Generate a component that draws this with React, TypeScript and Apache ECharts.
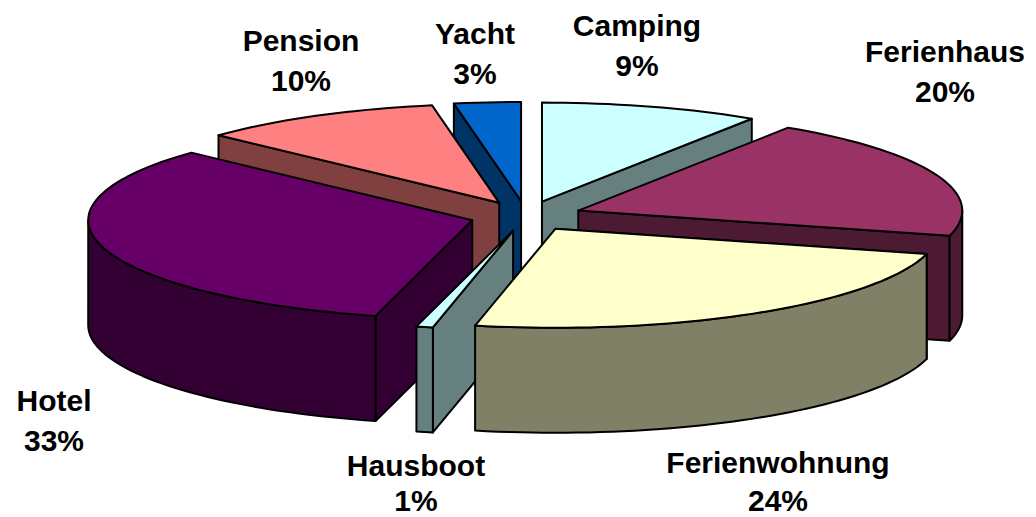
import React, { useEffect, useRef } from "react";
import * as echarts from "echarts";

const NAMES = ["Camping", "Ferienhaus", "Ferienwohnung", "Hausboot", "Hotel", "Pension", "Yacht"];
const VALUES = [9.2, 19.9, 24.25, 0.7, 32.9, 10.25, 2.8];
const TOP_COLORS = ["#CCFFFF", "#993366", "#FFFFCC", "#CCFFFF", "#660066", "#FF8080", "#0066CC"];
const WALL_COLORS = ["#668080", "#4D1A33", "#808066", "#668080", "#330033", "#804040", "#003366"];
const LABEL_ANCHORS = [
  [637, 25], [945, 51], [778, 462], [416, 465], [54, 400], [301, 40], [475, 33],
];
const LABEL_GAPS = [40, 40, 38, 35, 40, 40, 40];
const PAINT_ORDER = [6, 0, 5, 1, 4, 3, 2];

const CX = 526, CY = 216, RX = 384, RY = 99, DEPTH = 105, EXPLODE_X = 56, EXPLODE_Y = 15;
const TOTAL = VALUES.reduce((a, b) => a + b, 0);

let acc = 0;
const SLICES = VALUES.map((v, i) => {
  const start = (acc / TOTAL) * Math.PI * 2;
  acc += v;
  const end = (acc / TOTAL) * Math.PI * 2;
  const mid = (start + end) / 2;
  return {
    i, start, end, mid,
    ax: CX + EXPLODE_X * Math.sin(mid),
    ay: CY - EXPLODE_Y * Math.cos(mid),
  };
});

function rim(s: any, t: number): number[] {
  return [s.ax + RX * Math.sin(t), s.ay - RY * Math.cos(t)];
}
function arcPts(s: any, a: number, b: number): number[][] {
  const n = Math.max(2, Math.ceil((b - a) / 0.03));
  const out: number[][] = [];
  for (let k = 0; k <= n; k++) out.push(rim(s, a + ((b - a) * k) / n));
  return out;
}

function renderSlice(_: any, api: any) {
  const s = SLICES[api.value(1)];
  const top = TOP_COLORS[s.i];
  const wall = WALL_COLORS[s.i];
  const stroke = { stroke: "#000", lineWidth: 2, lineJoin: "round" };
  const children: any[] = [];
  const poly = (points: number[][], fill: string) =>
    children.push({ type: "polygon", shape: { points }, style: { fill, ...stroke } });
  const down = (p: number[]) => [p[0], p[1] + DEPTH];
  const apex = [s.ax, s.ay];

  const radialWall = (p: number[]) => poly([apex, p, down(p), down(apex)], wall);
  const pS = rim(s, s.start);
  const pE = rim(s, s.end);
  if (Math.sin(s.start) < 0 || Math.cos(s.start) < 0) radialWall(pS);
  if (Math.sin(s.end) > 0) radialWall(pE);

  const a = Math.max(s.start, Math.PI / 2);
  const b = Math.min(s.end, (3 * Math.PI) / 2);
  if (b > a) {
    const arc = arcPts(s, a, b);
    poly([...arc, ...arc.slice().reverse().map(down)], wall);
  }
  poly([apex, ...arcPts(s, s.start, s.end)], top);
  return { type: "group", children };
}

function labelText(text: string, x: number, y: number) {
  return {
    type: "text",
    x,
    y,
    style: {
      text,
      font: 'bold 30px "Liberation Sans"',
      fill: "#000",
      align: "center",
      verticalAlign: "middle",
      lineHeight: 24,
    },
  };
}

export default function App() {
  const ref = useRef<HTMLDivElement>(null);
  useEffect(() => {
    document.body.style.margin = "0";
    const chart = echarts.init(ref.current!, null, { renderer: "svg" });
    chart.setOption({
      animation: false,
      backgroundColor: "#fff",
      graphic: NAMES.flatMap((name, i) => {
        const [x, y] = LABEL_ANCHORS[i];
        return [
          labelText(name, x, y),
          labelText(`${Math.round(VALUES[i])}%`, x, y + LABEL_GAPS[i]),
        ];
      }),
      series: [
        {
          type: "custom",
          coordinateSystem: "none",
          silent: true,
          renderItem: renderSlice,
          data: PAINT_ORDER.map((i) => [VALUES[i], i]),
        },
      ],
    });
    return () => chart.dispose();
  }, []);
  return <div ref={ref} style={{ width: 1036, height: 517 }} />;
}
